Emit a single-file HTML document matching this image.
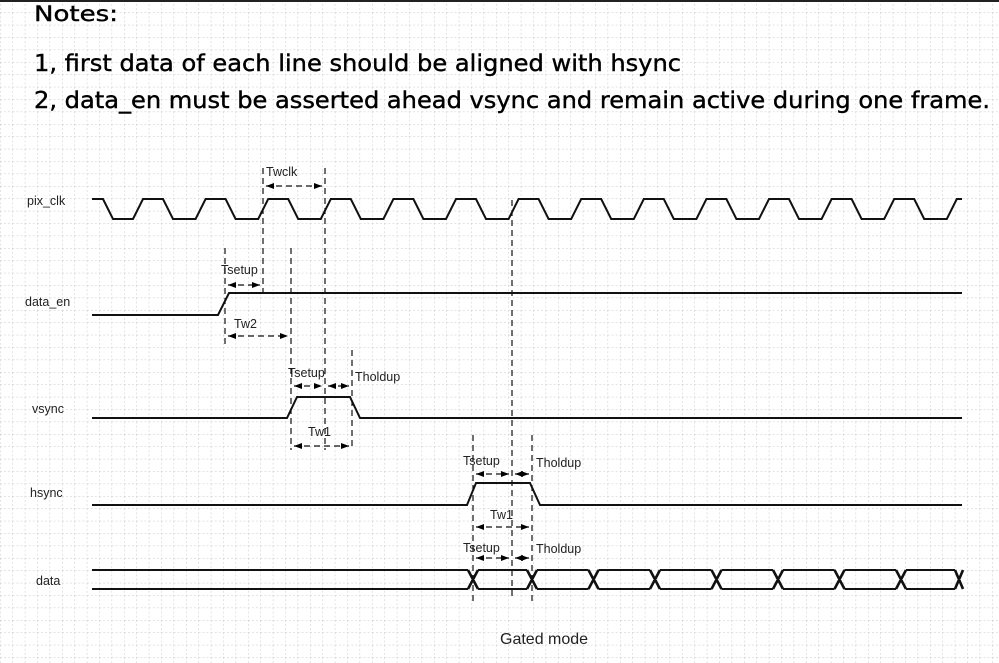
<!DOCTYPE html>
<html><head><meta charset="utf-8"><style>
html,body{margin:0;padding:0;background:#fff;}
svg{display:block;}
</style></head><body>
<svg width="999" height="663" viewBox="0 0 999 663" xmlns="http://www.w3.org/2000/svg">
<defs>
<pattern id="g" width="12.4" height="12.4" patternUnits="userSpaceOnUse">
<path d="M0 0H12.4M0 0V12.4" stroke="#c8c8c8" stroke-width="1" stroke-dasharray="2 2" fill="none"/>
</pattern>
<marker id="a" markerWidth="8" markerHeight="6" refX="8" refY="3" orient="auto" markerUnits="userSpaceOnUse"><path d="M0 0L8 3L0 6Z" fill="#000"/></marker>
<marker id="b" markerWidth="8" markerHeight="6" refX="0" refY="3" orient="auto" markerUnits="userSpaceOnUse"><path d="M8 0L0 3L8 6Z" fill="#000"/></marker>
</defs>
<rect width="999" height="663" fill="#fff"/>
<rect width="999" height="663" fill="url(#g)"/>
<line x1="0" y1="1" x2="999" y2="1" stroke="#222" stroke-width="2"/>
<g font-family="'DejaVu Sans','Liberation Sans',sans-serif" fill="#000" stroke="#000" stroke-width="0.4">
<text x="34" y="21" font-size="21" textLength="84" lengthAdjust="spacingAndGlyphs">Notes:</text>
<text x="34" y="71" font-size="23" textLength="647" lengthAdjust="spacingAndGlyphs">1, first data of each line should be aligned with hsync</text>
<text x="34" y="108" font-size="23" textLength="956" lengthAdjust="spacingAndGlyphs">2, data_en must be asserted ahead vsync and remain active during one frame.</text>
</g>
<g font-family="'Liberation Sans',sans-serif" font-size="12.5" fill="#222">
<text x="27" y="205">pix_clk</text>
<text x="25" y="306">data_en</text>
<text x="32" y="413">vsync</text>
<text x="30" y="497">hsync</text>
<text x="36" y="585">data</text>
<text x="266" y="176">Twclk</text>
<text x="221" y="274">Tsetup</text>
<text x="234" y="328">Tw2</text>
<text x="288" y="377">Tsetup</text>
<text x="355" y="381">Tholdup</text>
<text x="308" y="436">Tw1</text>
<text x="463" y="465">Tsetup</text>
<text x="536" y="467">Tholdup</text>
<text x="490" y="519">Tw1</text>
<text x="463" y="552">Tsetup</text>
<text x="536" y="553">Tholdup</text>
<text x="500" y="644" font-size="16">Gated mode</text>
</g>
<g fill="none" stroke="#111" stroke-width="2" stroke-linejoin="miter">
<path d="M92 199H103L113 219H133L143 199
H163 L173 219 H195.6 L205.6 199
H225.6 L235.6 219 H258.2 L268.2 199
H288.2 L298.2 219 H320.8 L330.8 199
H350.8 L360.8 219 H383.4 L393.4 199
H413.4 L423.4 219 H446 L456 199
H476 L486 219 H508.6 L518.6 199
H538.6 L548.6 219 H571.2 L581.2 199
H601.2 L611.2 219 H633.8 L643.8 199
H663.8 L673.8 219 H696.4 L706.4 199
H726.4 L736.4 219 H759 L769 199
H789 L799 219 H821.6 L831.6 199
H851.6 L861.6 219 H884.2 L894.2 199
H914.2 L924.2 219 H946.8 L956.8 199 H962"/>
<path d="M92 315H218L229 293H962"/>
<path d="M92 418H287L297 397H350L360 418H962"/>
<path d="M92 505H467L476 483H530L540 505H962"/>
<path d="M92 570H468 M92 589H468
M478 570H527 M478 589H527
M537 570H588.5 M537 589H588.5
M598.5 570H650 M598.5 589H650
M660 570H711.5 M660 589H711.5
M721.5 570H773 M721.5 589H773
M783 570H834.5 M783 589H834.5
M844.5 570H896 M844.5 589H896
M906 570H955 M906 589H955"/>
<path stroke-width="2.6" d="M468 570L478 589 M468 589L478 570
M527 570L537 589 M527 589L537 570
M588.5 570L598.5 589 M588.5 589L598.5 570
M650 570L660 589 M650 589L660 570
M711.5 570L721.5 589 M711.5 589L721.5 570
M773 570L783 589 M773 589L783 570
M834.5 570L844.5 589 M834.5 589L844.5 570
M896 570L906 589 M896 589L906 570
M955 570L963 589 M955 589L963 570"/>
</g>
<g fill="none" stroke="#111" stroke-width="1.2" stroke-dasharray="6 4">
<line x1="225" y1="248" x2="225" y2="345"/>
<line x1="263" y1="168" x2="263" y2="295"/>
<line x1="291" y1="248" x2="291" y2="450"/>
<line x1="325" y1="168" x2="325" y2="450"/>
<line x1="352" y1="350" x2="352" y2="450"/>
<line x1="473" y1="435" x2="473" y2="605"/>
<line x1="512" y1="200" x2="512" y2="600"/>
<line x1="532" y1="435" x2="532" y2="605"/>
</g>
<g fill="none" stroke="#111" stroke-width="1.2" stroke-dasharray="6 4">
<line x1="266" y1="186" x2="322" y2="186" marker-start="url(#b)" marker-end="url(#a)"/>
<line x1="228" y1="285" x2="260" y2="285" marker-start="url(#b)" marker-end="url(#a)"/>
<line x1="228" y1="336" x2="288" y2="336" marker-start="url(#b)" marker-end="url(#a)"/>
<line x1="294" y1="386" x2="322" y2="386" marker-start="url(#b)" marker-end="url(#a)"/>
<line x1="328" y1="386" x2="349" y2="386" marker-start="url(#b)" marker-end="url(#a)"/>
<line x1="294" y1="446" x2="349" y2="446" marker-start="url(#b)" marker-end="url(#a)"/>
<line x1="476" y1="474" x2="509" y2="474" marker-start="url(#b)" marker-end="url(#a)"/>
<line x1="515" y1="474" x2="529" y2="474" marker-start="url(#b)" marker-end="url(#a)"/>
<line x1="476" y1="527" x2="529" y2="527" marker-start="url(#b)" marker-end="url(#a)"/>
<line x1="476" y1="558" x2="509" y2="558" marker-start="url(#b)" marker-end="url(#a)"/>
<line x1="515" y1="558" x2="529" y2="558" marker-start="url(#b)" marker-end="url(#a)"/>
</g>
</svg>
</body></html>
